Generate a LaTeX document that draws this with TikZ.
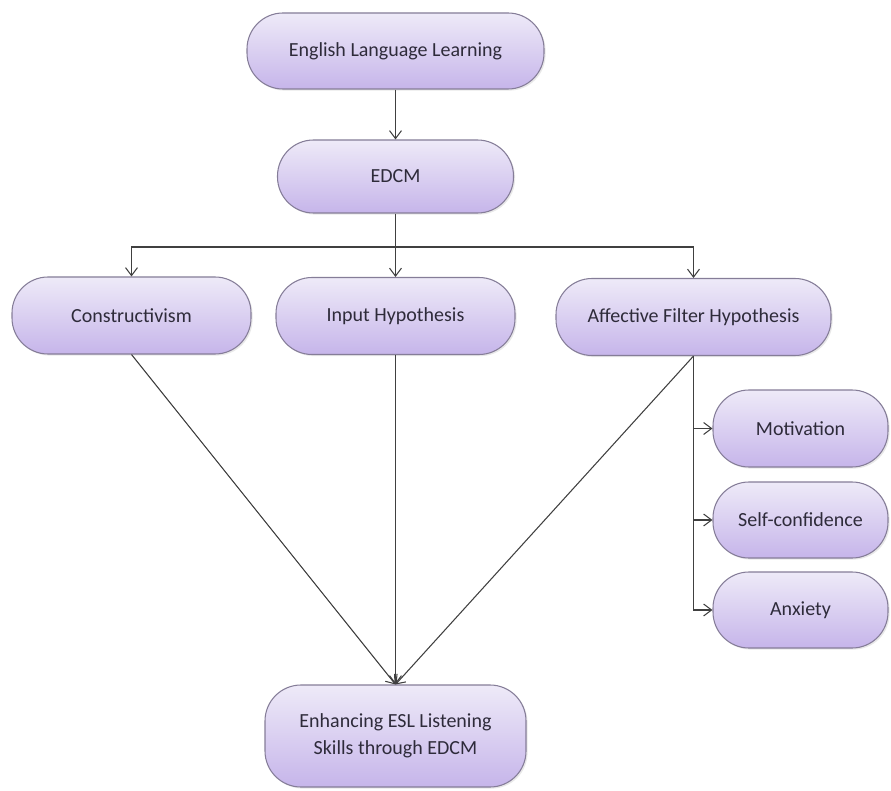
\documentclass[tikz,border=0pt]{standalone}
\usepackage{fontspec}
\setmainfont{Carlito}
\usetikzlibrary{arrows.meta,shadows}

\definecolor{pillTop}{HTML}{EEEAF8}
\definecolor{pillBot}{HTML}{C6B5EA}
\definecolor{pillLine}{HTML}{857D98}
\definecolor{pillText}{HTML}{2E2B3A}
\definecolor{linkLine}{HTML}{404040}

\tikzset{
  pill/.style={rectangle, rounded corners=27pt, draw=pillLine, line width=0.8pt,
    top color=pillTop, bottom color=pillBot, text=pillText, align=center,
    font=\fontsize{15}{20}\selectfont, inner sep=0pt,
    drop shadow={opacity=0.18, shadow xshift=1.2pt, shadow yshift=-1.2pt}},
  link/.style={draw=linkLine, line width=0.8pt, -{Straight Barb[length=6pt,width=9pt]}}
}

\begin{document}
\begin{tikzpicture}[x=0.75pt,y=0.75pt,yscale=-1,xscale=1]
\useasboundingbox (0,0) rectangle (891,791);

% Boxes
\node [pill, minimum width=222.75pt, minimum height=57pt] (ell) at (395.5,51) {English Language Learning};
\node [pill, minimum width=177pt, minimum height=54.75pt] (edcm) at (395.5,176.5) {EDCM};
\node [pill, minimum width=179.25pt, minimum height=57.75pt] (cons) at (131.5,315.5) {Constructivism};
\node [pill, minimum width=179.25pt, minimum height=57.75pt] (input) at (395.5,316) {Input Hypothesis};
\node [pill, minimum width=206.25pt, minimum height=57.75pt] (affect) at (693.5,317) {Affective Filter Hypothesis};
\node [pill, minimum width=131.25pt, minimum height=57.75pt] (motiv) at (800.5,428.5) {Motivation};
\node [pill, minimum width=131.25pt, minimum height=57pt] (selfc) at (800.5,520) {Self-confidence};
\node [pill, minimum width=131.25pt, minimum height=57pt] (anx) at (800.5,610) {Anxiety};
\node [pill, minimum width=195.75pt, minimum height=76.5pt] (goal) at (395.5,736) {Enhancing ESL Listening\\Skills through EDCM};

% Connectors
\coordinate (split) at (395.5,247);
\draw [link] (ell) -- (edcm);
\draw [draw=linkLine, line width=0.8pt] (edcm) -- (split);
\draw [link] (split) -| (cons);
\draw [link] (split) -- (input);
\draw [link] (split) -| (affect);

\draw [link] (affect.south) |- (motiv.west);
\draw [link] (affect.south) |- (selfc.west);
\draw [link] (affect.south) |- (anx.west);

\draw [link] (cons.south) -- (goal.north);
\draw [link] (input.south) -- (goal.north);
\draw [link] (affect.south) -- (goal.north);

\end{tikzpicture}
\end{document}
